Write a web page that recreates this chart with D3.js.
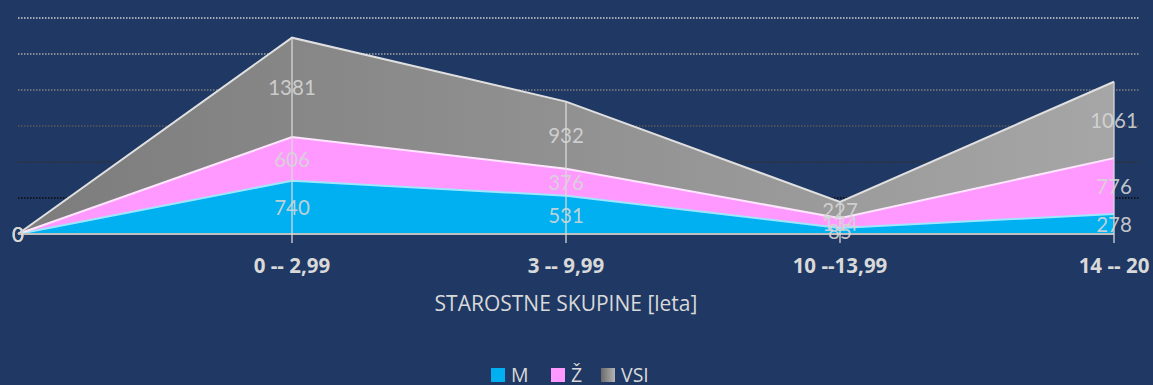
<!DOCTYPE html>
<html>
<head>
<meta charset="utf-8">
<script src="https://cdn.jsdelivr.net/npm/d3@7"></script>
<style>
  html, body { margin: 0; padding: 0; background: #1f3864; }
  svg { display: block; }
</style>
</head>
<body>
<svg id="chart" width="1153" height="385"></svg>
<script>
// Age groups (the leading empty category anchors the areas at zero)
const categories = ["", "0 -- 2,99", "3 -- 9,99", "10 --13,99", "14 -- 20"];
const seriesNames = ["M", "Ž", "VSI"];
const valuesM   = [0, 740, 531, 85, 278];
const valuesZ   = [0, 606, 376, 134, 776];
const valuesVSI = [0, 1381, 932, 227, 1061];
const gridValues = [500, 1000, 1500, 2000, 2500, 3000];
const xTitle = "STAROSTNE SKUPINE [leta]";

const svg = d3.select("#chart");
const labelFont = "Lato, 'Open Sans', sans-serif";
const textFont = "'Open Sans', Lato, sans-serif";

const rows = categories.map((c, i) => ({ cat: c, "M": valuesM[i], "Ž": valuesZ[i], "VSI": valuesVSI[i] }));
const stacked = d3.stack().keys(seriesNames)(rows);

const x = d3.scalePoint().domain(categories).range([18, 1114]);
const y = d3.scaleLinear().domain([0, 3000]).range([234, 18]);

const defs = svg.append("defs");
const grayGrad = defs.append("linearGradient").attr("id", "grayFill")
  .attr("gradientUnits", "userSpaceOnUse")
  .attr("x1", x(categories[0])).attr("x2", x(categories[categories.length - 1]))
  .attr("y1", 0).attr("y2", 0);
grayGrad.append("stop").attr("offset", 0).attr("stop-color", "#7c7c7c");
grayGrad.append("stop").attr("offset", 1).attr("stop-color", "#a6a6a6");

const swatchGray = defs.append("linearGradient").attr("id", "swGray");
swatchGray.append("stop").attr("offset", 0).attr("stop-color", "#6a6a6a");
swatchGray.append("stop").attr("offset", 1).attr("stop-color", "#b4b4b4");

const fills = { "M": "#00b0f0", "Ž": "#ff99ff", "VSI": "url(#grayFill)" };
const edges = { "M": "#9fe6ff", "Ž": "#ffe6ff", "VSI": "#e0e0e0" };
const swatches = { "M": "#00b0f0", "Ž": "#ff99ff", "VSI": "url(#swGray)" };

// Dotted horizontal gridlines, fading from light at the top to black near the base
const gridColors = d3.scaleLinear().domain([500, 3000]).range(["#0a0a0a", "#d0d0d0"]);
svg.append("g").selectAll("line").data(gridValues).join("line")
  .attr("x1", 18).attr("x2", 1140)
  .attr("y1", d => y(d)).attr("y2", d => y(d))
  .attr("stroke", d => gridColors(d))
  .attr("stroke-width", 1.5)
  .attr("stroke-dasharray", "1.5,1.5");

// Stacked areas
const area = d3.area()
  .x(d => x(d.data.cat))
  .y0(d => y(d[0]))
  .y1(d => y(d[1]));
svg.append("g").selectAll("path").data(stacked).join("path")
  .attr("d", area)
  .attr("fill", s => fills[s.key]);

// Top edges of each band
const edge = d3.line().x(d => x(d.data.cat)).y(d => y(d[1]));
svg.append("g").selectAll("path").data(stacked).join("path")
  .attr("d", edge)
  .attr("fill", "none")
  .attr("stroke", s => edges[s.key])
  .attr("stroke-width", 2);

// Category axis line
svg.append("line")
  .attr("x1", x(categories[0])).attr("x2", x(categories[categories.length - 1]))
  .attr("y1", y(0)).attr("y2", y(0))
  .attr("stroke", "#bfbfbf").attr("stroke-width", 2);

// Drop lines from the top of the stack down through the axis
const topLayer = stacked[stacked.length - 1];
svg.append("g").selectAll("line").data(topLayer.slice(1)).join("line")
  .attr("x1", d => x(d.data.cat)).attr("x2", d => x(d.data.cat))
  .attr("y1", d => y(d[1])).attr("y2", y(0) + 9)
  .attr("stroke", "#d9d9d9").attr("stroke-opacity", 0.85).attr("stroke-width", 1.5);

// Data labels centred in each band
stacked.forEach(s => {
  svg.append("g").selectAll("text").data(s).join("text")
    .attr("x", d => x(d.data.cat))
    .attr("y", d => (y(d[0]) + y(d[1])) / 2)
    .attr("text-anchor", "middle")
    .attr("dominant-baseline", "central")
    .attr("font-family", labelFont)
    .attr("font-size", 20.5)
    .attr("fill", "#d6d6d6")
    .attr("fill-opacity", 0.9)
    .text(d => d.data[s.key]);
});

// Category labels
svg.append("g").selectAll("text").data(categories.slice(1)).join("text")
  .attr("x", d => x(d))
  .attr("y", 273)
  .attr("text-anchor", "middle")
  .attr("font-family", textFont)
  .attr("font-weight", "bold")
  .attr("font-size", 20.5)
  .attr("fill", "#d9d9d9")
  .text(d => d);

// Axis title
svg.append("text")
  .attr("x", x(categories[2]))
  .attr("y", 311)
  .attr("text-anchor", "middle")
  .attr("font-family", textFont)
  .attr("font-size", 21)
  .attr("fill", "#d9d9d9")
  .text(xTitle);

// Legend
const legendX = [491, 551, 601];
const legend = svg.append("g").selectAll("g").data(seriesNames).join("g")
  .attr("transform", (d, i) => `translate(${legendX[i]},368)`);
legend.append("rect")
  .attr("width", 14).attr("height", 14)
  .attr("fill", d => swatches[d]);
legend.append("text")
  .attr("x", 20).attr("y", 14)
  .attr("font-family", textFont)
  .attr("font-size", 19.5)
  .attr("fill", "#d9d9d9")
  .text(d => d);
</script>
</body>
</html>
